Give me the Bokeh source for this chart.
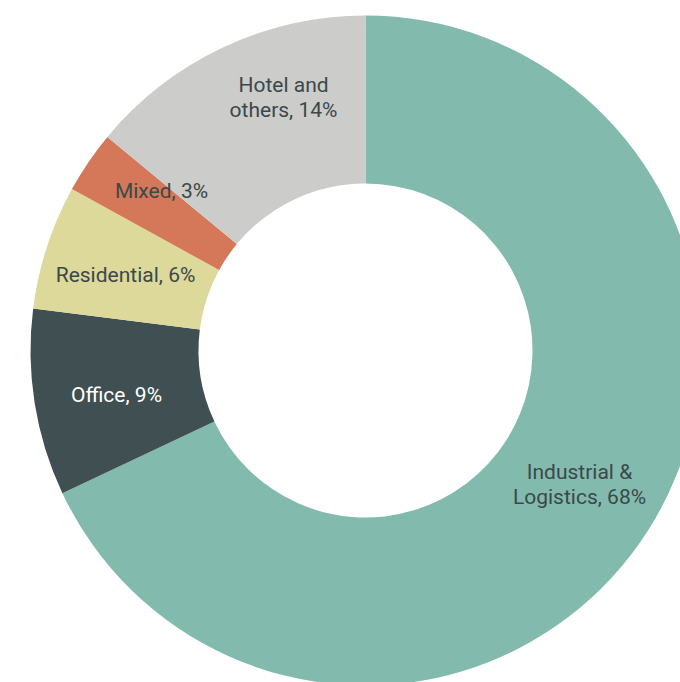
from math import pi

from bokeh.core.properties import value
from bokeh.embed import file_html
from bokeh.models import ColumnDataSource, Range1d
from bokeh.plotting import figure
from bokeh.resources import INLINE

# Share of volume by sector, clockwise from 12 o'clock
sectors = ["Industrial &\nLogistics, 68%", "Office, 9%", "Residential, 6%", "Mixed, 3%", "Hotel and\nothers, 14%"]
shares = [68, 9, 6, 3, 14]
colors = ["#82bbad", "#404f51", "#dcd99b", "#d5785a", "#cccccb"]
label_colors = ["#3b4849", "#ffffff", "#3b4849", "#3b4849", "#3b4849"]

# label anchor points (screen pixels, y measured from the top)
label_x = [579, 116, 125, 161, 283]
label_y = [484, 394, 274, 190, 97]

W, H = 680, 682
CX, CY = 365, 350
R_OUT, R_IN = 335, 167

total = sum(shares)
starts, ends = [], []
acc = 0.0
for s in shares:
    starts.append(pi / 2 - 2 * pi * acc / total)
    acc += s
    ends.append(pi / 2 - 2 * pi * acc / total)

wedges = ColumnDataSource(dict(start=starts, end=ends, color=colors))
labels = ColumnDataSource(dict(
    x=label_x,
    y=[H - v for v in label_y],
    text=sectors,
    color=label_colors,
))

p = figure(width=W, height=H, output_backend="svg", toolbar_location=None,
           x_range=Range1d(0, W), y_range=Range1d(0, H),
           min_border=0, outline_line_color=None, background_fill_color="white")
p.axis.visible = False
p.grid.visible = False

p.annular_wedge(x=CX, y=H - CY, inner_radius=R_IN, outer_radius=R_OUT,
                start_angle="start", end_angle="end", direction="clock",
                fill_color="color", line_color=None, source=wedges)

p.text(x="x", y="y", text="text", text_color="color", source=labels,
       text_font=value("Roboto"), text_font_size="21px",
       text_align="center", text_baseline="middle", text_line_height=1.02)

open("out.html", "w").write(file_html(p, INLINE))
